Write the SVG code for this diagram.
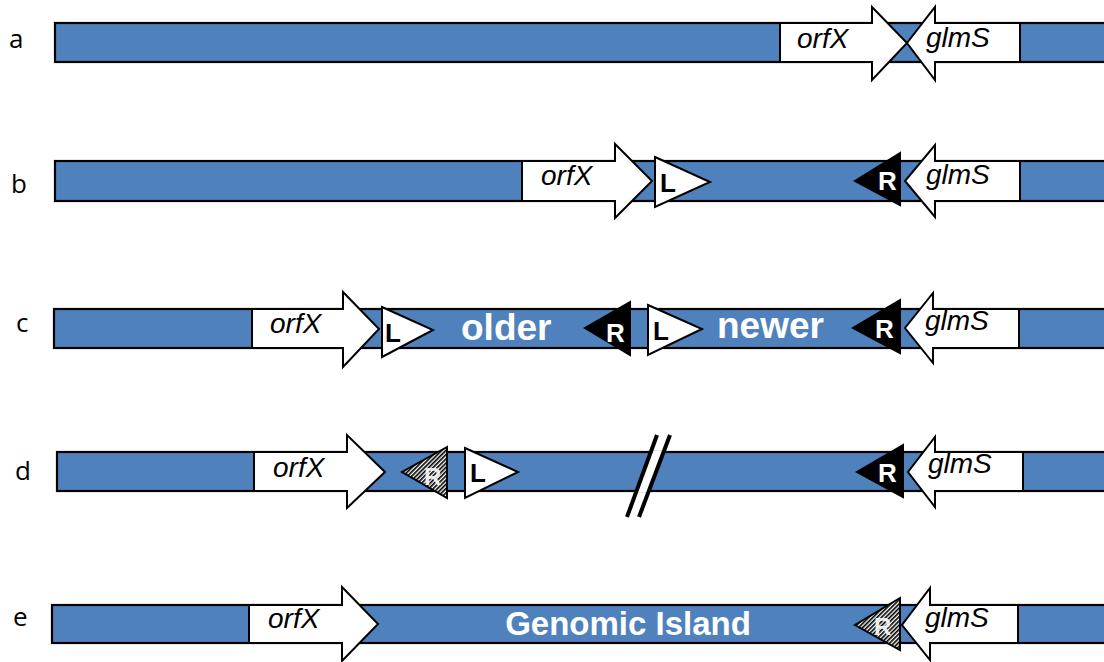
<svg xmlns="http://www.w3.org/2000/svg" width="1104" height="662" viewBox="0 0 1104 662">
<defs>
<pattern id="hatch" patternUnits="userSpaceOnUse" width="3" height="3" patternTransform="rotate(45)">
<rect width="3" height="3" fill="#fff"/>
<line x1="0.8" y1="0" x2="0.8" y2="3" stroke="#000" stroke-width="1.7"/>
</pattern>
</defs>
<style>
.bar{fill:#4F81BD;stroke:#000;stroke-width:2.2}
.gene{fill:#fff;stroke:#000;stroke-width:2}
.tl{fill:#fff;stroke:#000;stroke-width:2}
.tr{fill:#000;stroke:#000;stroke-width:2}
.th{fill:url(#hatch);stroke:#000;stroke-width:2}
.gt{font-family:"Liberation Sans",Arial,sans-serif;font-style:italic;font-size:28px;fill:#000}
.lb{font-family:"Liberation Sans",Arial,sans-serif;font-weight:bold;font-size:26px;fill:#000}
.rb{font-family:"Liberation Sans",Arial,sans-serif;font-weight:bold;font-size:26px;fill:#fff}
.rh{font-family:"Liberation Sans",Arial,sans-serif;font-weight:bold;font-size:24px;fill:#fff;fill-opacity:0.9}
.big{font-family:"Liberation Sans",Arial,sans-serif;font-weight:bold;font-size:37px;fill:#fff}
.row{font-family:"Open Sans","DejaVu Sans",sans-serif;font-size:26px;fill:#000}
</style>

<g id="row-a">
<text class="row" x="9" y="48">a</text>
<rect class="bar" x="55" y="23" width="1060" height="39"/>
<g id="a-orfX"><polygon class="gene" points="780,23 872,23 872,7 907,43 872,80 872,62 780,62"/><text class="gt" x="797" y="48">orfX</text></g>
<g id="a-glmS"><polygon class="gene" points="1020,23 935,23 935,7 907,43 935,80 935,62 1020,62"/><text class="gt" x="926" y="47">glmS</text></g>
</g>

<g id="row-b">
<text class="row" x="11" y="193">b</text>
<rect class="bar" x="55" y="161" width="1060" height="40"/>
<g id="b-orfX"><polygon class="gene" points="522,161 615,161 615,144 652,181 615,218 615,201 522,201"/><text class="gt" x="541" y="185">orfX</text></g>
<g id="b-L"><polygon class="tl" points="655,157 710,182 655,207"/><text class="lb" x="660" y="192">L</text></g>
<g id="b-R"><polygon class="tr" points="900,153 855,181 900,205"/><text class="rb" x="878" y="190">R</text></g>
<g id="b-glmS"><polygon class="gene" points="1020,161 935,161 935,145 905,181 935,217 935,201 1020,201"/><text class="gt" x="926" y="184">glmS</text></g>
</g>

<g id="row-c">
<text class="row" x="16" y="332">c</text>
<rect class="bar" x="54" y="309" width="1060" height="39"/>
<g id="c-orfX"><polygon class="gene" points="252,309 343,309 343,292 379,329 343,367 343,348 252,348"/><text class="gt" x="270" y="333">orfX</text></g>
<g id="c-L1"><polygon class="tl" points="382,307 433,330 382,357"/><text class="lb" x="385" y="342">L</text></g>
<text class="big" x="461" y="340">older</text>
<g id="c-R1"><polygon class="tr" points="630,302 585,328 630,355"/><text class="rb" x="606" y="342">R</text></g>
<g id="c-L2"><polygon class="tl" points="648,305 702,329 648,355"/><text class="lb" x="653" y="340">L</text></g>
<text class="big" x="717" y="338">newer</text>
<g id="c-R2"><polygon class="tr" points="900,300 853,328 900,353"/><text class="rb" x="875" y="338">R</text></g>
<g id="c-glmS"><polygon class="gene" points="1019,309 933,309 933,293 905,328 933,363 933,348 1019,348"/><text class="gt" x="925" y="330">glmS</text></g>
</g>

<g id="row-d">
<text class="row" x="15" y="480">d</text>
<rect class="bar" x="57" y="452" width="1060" height="39"/>
<g id="d-orfX"><polygon class="gene" points="254,452 347,452 347,435 385,472 347,508 347,491 254,491"/><text class="gt" x="273" y="477">orfX</text></g>
<g id="d-Rh"><polygon class="th" points="447,447 402,472 447,498"/><text class="rh" x="424" y="485">R</text></g>
<g id="d-L"><polygon class="tl" points="465,448 518,472 465,498"/><text class="lb" x="470" y="482">L</text></g>
<g id="d-R"><polygon class="tr" points="903,445 857,472 903,497"/><text class="rb" x="878" y="482">R</text></g>
<g id="d-glmS"><polygon class="gene" points="1023,452 935,452 935,437 908,472 935,507 935,491 1023,491"/><text class="gt" x="928" y="473">glmS</text></g>
</g>

<g id="connectors">
<g id="break-mark">
<polygon points="651,451 664,451 650,492 637,492" fill="#fff"/>
<line x1="657" y1="435" x2="627" y2="517" stroke="#000" stroke-width="4"/>
<line x1="670" y1="435" x2="639" y2="517" stroke="#000" stroke-width="4"/>
</g>
</g>

<g id="row-e">
<text class="row" x="13" y="626">e</text>
<rect class="bar" x="52" y="605" width="1060" height="38"/>
<g id="e-orfX"><polygon class="gene" points="249,605 342,605 342,587 378,624 342,661 342,643 249,643"/><text class="gt" x="268" y="628">orfX</text></g>
<text class="big" x="628" y="635" text-anchor="middle" style="font-size:33px">Genomic Island</text>
<g id="e-Rh"><polygon class="th" points="900,598 855,625 900,650"/><text class="rh" x="874" y="635">R</text></g>
<g id="e-glmS"><polygon class="gene" points="1018,605 930,605 930,588 902,625 930,660 930,643 1018,643"/><text class="gt" x="925" y="627">glmS</text></g>
</g>
</svg>
